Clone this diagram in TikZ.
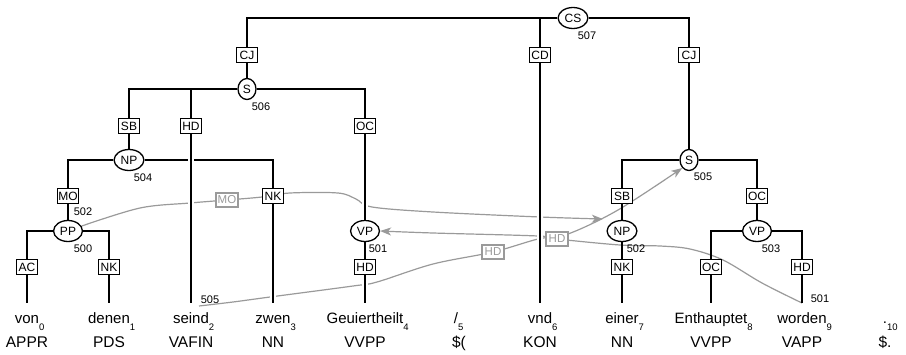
\documentclass[tikz,border=0pt]{standalone}
\usepackage{fontspec}
\setmainfont{Liberation Sans}
\usetikzlibrary{shapes.geometric,arrows.meta}
\pgfdeclarelayer{bg}
\pgfsetlayers{bg,main}
\definecolor{secgray}{HTML}{9A9A9A}
% token index, hanging below and to the right of the word
\newcommand\idx[1]{\rlap{\raisebox{-7pt}{\fontsize{9.5}{10}\selectfont #1}}}

\begin{document}
\begin{tikzpicture}[x=1pt,y=-1pt,
  cat/.style={ellipse,draw,line width=1.3pt,fill=white,inner xsep=2.2pt,inner ysep=1.5pt,
    minimum height=21pt,minimum width=18pt,font=\fontsize{12}{13}\selectfont},
  edgelab/.style={rectangle,draw,line width=1.4pt,fill=white,inner sep=1pt,
    minimum width=21pt,minimum height=15pt,font=\fontsize{12}{13}\selectfont},
  seclab/.style={edgelab,draw=secgray,text=secgray,minimum width=22pt,minimum height=14pt,
    line width=1.1pt,font=\fontsize{11.5}{12}\selectfont},
  idlab/.style={font=\fontsize{11}{12}\selectfont,inner sep=0pt},
  word/.style={anchor=base,inner sep=0pt,font=\fontsize{15}{18}\selectfont},
  tag/.style={anchor=base,inner sep=0pt,font=\fontsize{15.5}{18}\selectfont},
  tree/.style={line width=1.4pt},
  cut/.style={tree,preaction={draw=white,line width=5.5pt}},
  sec/.style={draw=secgray,line width=1.2pt},
  secarrow/.style={sec,-{Stealth[length=11pt,width=8pt,inset=3pt]}}
]
\useasboundingbox (0,0) rectangle (906,354);

% ---- terminals ----
\foreach \n/\x in {0/27,1/109,2/191,3/273,4/365,5/457,6/540,7/622,8/711,9/802,10/885}
  \coordinate (c\n) at (\x,303);
\node[word] (w0) at (27,323) {von\idx{0}};
\node[word] (w1) at (109,323) {denen\idx{1}};
\node[word] (w2) at (191,323) {seind\idx{2}};
\node[word] (w3) at (273,323) {zwen\idx{3}};
\node[word] (w4) at (365,323) {Geuiertheilt\idx{4}};
\node[word] (w5) at (456,323) {/\idx{5}};
\node[word] (w6) at (540,323) {vnd\idx{6}};
\node[word] (w7) at (622,323) {einer\idx{7}};
\node[word] (w8) at (711,323) {Enthauptet\idx{8}};
\node[word] (w9) at (802,323) {worden\idx{9}};
\node[word] (w10) at (885,323) {.\idx{10}};

\node[tag] (p0) at (27,347) {APPR};
\node[tag] (p1) at (109,347) {PDS};
\node[tag] (p2) at (191,347) {VAFIN};
\node[tag] (p3) at (273,347) {NN};
\node[tag] (p4) at (365,347) {VVPP};
\node[tag] (p5) at (459,347) {\$(};
\node[tag] (p6) at (540,347) {KON};
\node[tag] (p7) at (622,347) {NN};
\node[tag] (p8) at (711,347) {VVPP};
\node[tag] (p9) at (802,347) {VAPP};
\node[tag] (p10) at (885,347) {\$.};

% ---- phrase nodes ----
\node[cat] (CS) at (573,18) {CS};
\node[cat] (S506) at (247,89) {S};
\node[cat] (S505) at (689,160) {S};
\node[cat] (NP504) at (129,160) {NP};
\node[cat] (PP) at (68,231) {PP};
\node[cat] (VP501) at (365,231) {VP};
\node[cat] (NP502) at (622,231) {NP};
\node[cat] (VP503) at (757,231) {VP};

\node[idlab] at ([shift={(14,18)}]CS) {507};
\node[idlab] at ([shift={(14,18)}]S506) {506};
\node[idlab] at ([shift={(14,17)}]S505) {505};
\node[idlab] at ([shift={(14,18)}]NP504) {504};
\node[idlab] at ([shift={(15,18)}]PP) {500};
\node[idlab] at ([shift={(13,18)}]VP501) {501};
\node[idlab] at ([shift={(14,18)}]NP502) {502};
\node[idlab] at ([shift={(14,18)}]VP503) {503};

% ---- edge labels ----
\node[edgelab] (CJa) at (247,55) {CJ};
\node[edgelab] (CD) at (540,55) {CD};
\node[edgelab] (CJb) at (689,55) {CJ};
\node[edgelab] (SBa) at (129,126) {SB};
\node[edgelab] (HDa) at (191,126) {HD};
\node[edgelab] (OCa) at (365,126) {OC};
\node[edgelab] (MO) at (68,196) {MO};
\node[edgelab] (NKa) at (273,196) {NK};
\node[edgelab] (AC) at (27,267) {AC};
\node[edgelab] (NKb) at (109,267) {NK};
\node[edgelab] (HDb) at (365,267) {HD};
\node[edgelab] (SBb) at (622,196) {SB};
\node[edgelab] (OCb) at (757,196) {OC};
\node[edgelab] (NKc) at (622,267) {NK};
\node[edgelab] (OCc) at (711,267) {OC};
\node[edgelab] (HDc) at (802,267) {HD};

% ---- secondary edges ----
\coordinate (s505) at (199,306);
\node[idlab] at (210,300) {505};
\node[idlab] at (83,212) {502};
\node[idlab] at (820,299) {501};
\node[seclab] (secMO) at (227,200) {MO};
\node[seclab] (secHDa) at (493,252) {HD};
\node[seclab] (secHDb) at (557,239) {HD};

\begin{pgfonlayer}{bg}
  \draw[secarrow] plot[smooth,tension=0.55] coordinates {(PP.20) (140,208) (190,203) (secMO)
    (262,197) (290,193) (338,193) (356,199) (372,207) (433,212) (540,217)
    ([shift={(-7,-5)}]NP502.150)};
  \draw[secarrow] plot[smooth,tension=0.55] coordinates {(s505) (233,302) (270,297) (353,286)
    (377,282) (433,264) (secHDa) (538,239) (568,234) (618,210) (S505.230)};
  \draw[secarrow] plot[smooth,tension=0.55] coordinates {(c9) (762,283) (723,260) (690,249)
    (660,246) (620,245) (secHDb) (538,236) (433,233) (VP501.east)};
\end{pgfonlayer}

% ---- primary edges ----
\draw[tree] (CS) -| (CJa);
\draw[tree] (CS) -| (CD);
\draw[tree] (CS) -| (CJb);
\draw[tree] (CJa) -- (S506);
\draw[tree] (CJb) -- (S505);
\draw[tree] (S506) -| (SBa);
\draw[tree] (S506) -| (HDa);
\draw[tree] (S506) -| (OCa);
\draw[tree] (SBa) -- (NP504);
\draw[tree] (NP504) -| (MO);
\draw[tree] (NP504) -| (NKa);
\draw[tree] (MO) -- (PP);
\draw[tree] (PP) -| (AC);
\draw[tree] (PP) -| (NKb);
\draw[tree] (AC) -- (c0);
\draw[tree] (NKb) -- (c1);
\draw[tree] (S505) -| (SBb);
\draw[tree] (S505) -| (OCb);
\draw[tree] (SBb) -- (NP502);
\draw[tree] (OCb) -- (VP503);
\draw[tree] (NP502) -- (NKc);
\draw[tree] (NKc) -- (c7);
\draw[tree] (VP503) -| (OCc);
\draw[tree] (VP503) -| (HDc);
\draw[tree] (OCc) -- (c8);
\draw[tree] (HDc) -- (c9);
\draw[tree] (VP501) -- (HDb);
% long verticals that cross other lines
\draw[cut] (CD) -- (c6);
\draw[cut] (HDa) -- (c2);
\draw[cut] (OCa) -- (VP501);
\draw[cut] (NKa) -- (c3);
\draw[cut] (HDb) -- (c4);
\end{tikzpicture}
\end{document}
